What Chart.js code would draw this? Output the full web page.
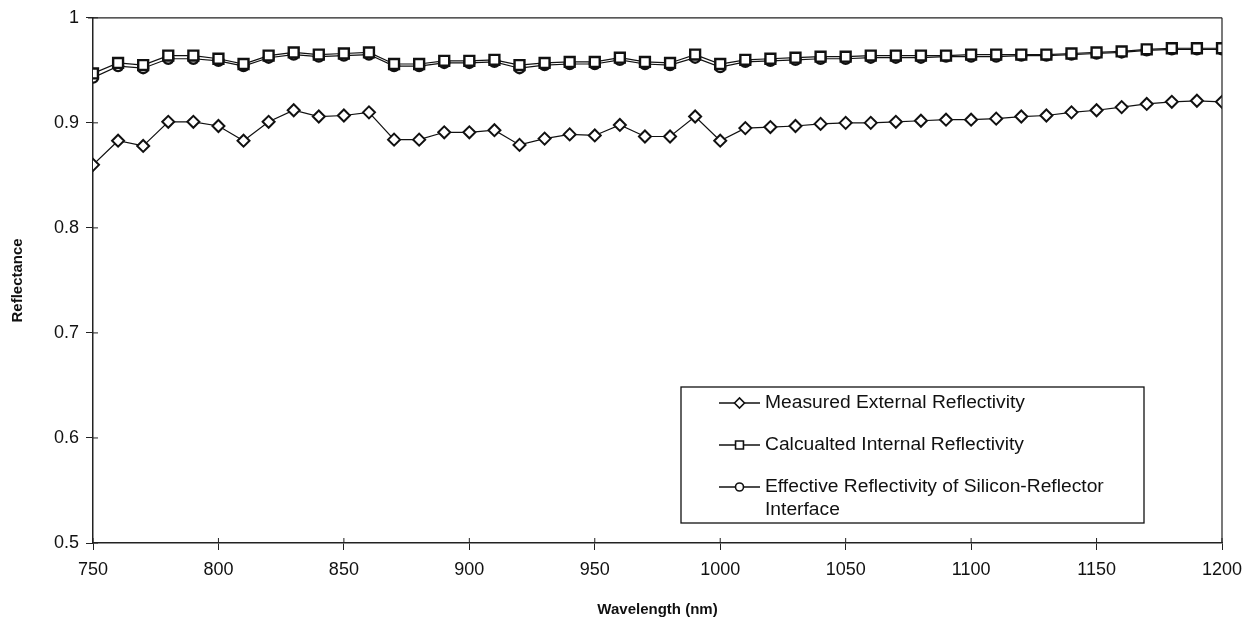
<!DOCTYPE html>
<html lang="en">
<head>
<meta charset="UTF-8">
<title>Reflectance vs Wavelength</title>
<script src="https://cdn.jsdelivr.net/npm/chart.js"></script>
<style>
  body { margin: 0; background: #fff; }
  #wrap { width: 1255px; height: 623px; position: relative; }
</style>
</head>
<body>
<div id="wrap"><canvas id="chart" width="1255" height="623"></canvas></div>
<script>
// wavelengths (nm)
const wavelengths = [750,760,770,780,790,800,810,820,830,840,850,860,870,880,890,900,910,920,930,940,950,960,970,980,990,1000,1010,1020,1030,1040,1050,1060,1070,1080,1090,1100,1110,1120,1130,1140,1150,1160,1170,1180,1190,1200];

const measured = [0.860,0.883,0.878,0.901,0.901,0.897,0.883,0.901,0.912,0.906,0.907,0.910,0.884,0.884,0.891,0.891,0.893,0.879,0.885,0.889,0.888,0.898,0.887,0.887,0.906,0.883,0.895,0.896,0.897,0.899,0.900,0.900,0.901,0.902,0.903,0.903,0.904,0.906,0.907,0.910,0.912,0.915,0.918,0.920,0.921,0.920];

const calculated = [0.947,0.957,0.955,0.964,0.964,0.961,0.956,0.964,0.967,0.965,0.966,0.967,0.956,0.956,0.959,0.959,0.960,0.955,0.957,0.958,0.958,0.962,0.958,0.957,0.965,0.956,0.960,0.961,0.962,0.963,0.963,0.964,0.964,0.964,0.964,0.965,0.965,0.965,0.965,0.966,0.967,0.968,0.970,0.971,0.971,0.971];

const effective = [0.943,0.954,0.952,0.961,0.961,0.959,0.954,0.962,0.965,0.963,0.964,0.965,0.954,0.954,0.957,0.957,0.958,0.952,0.955,0.956,0.956,0.960,0.956,0.955,0.962,0.953,0.958,0.959,0.960,0.961,0.961,0.962,0.962,0.962,0.963,0.963,0.963,0.964,0.964,0.965,0.966,0.967,0.969,0.970,0.970,0.970];

const seriesNames = ["Measured External Reflectivity", "Calcualted Internal Reflectivity", "Effective Reflectivity of Silicon-Reflector Interface"];

const xTicks = [750,800,850,900,950,1000,1050,1100,1150,1200];
const yTicks = [0.5,0.6,0.7,0.8,0.9,1];

const FONT = "'Liberation Sans', Arial, sans-serif";
const INK = "#111";

function toPoints(arr) {
  return arr.map((v, i) => ({ x: wavelengths[i], y: v }));
}

// plot frame + ticks that cross the axes
const framePlugin = {
  id: "frame",
  afterDraw(chart) {
    const { ctx, chartArea: a, scales } = chart;
    ctx.save();
    ctx.strokeStyle = "#222";
    ctx.lineWidth = 1.2;
    ctx.beginPath();
    ctx.moveTo(a.left - 5, a.top); ctx.lineTo(a.right, a.top);
    ctx.moveTo(a.right, a.top); ctx.lineTo(a.right, a.bottom);
    ctx.stroke();
    ctx.lineWidth = 1;
    ctx.beginPath();
    xTicks.forEach(t => {
      const x = scales.x.getPixelForValue(t);
      ctx.moveTo(x, a.bottom); ctx.lineTo(x, a.bottom - 5);
    });
    yTicks.forEach(t => {
      const y = scales.y.getPixelForValue(t);
      ctx.moveTo(a.left, y); ctx.lineTo(a.left + 5, y);
    });
    ctx.stroke();
    ctx.restore();
  }
};

// boxed legend inside the plot, like the original
const legendPlugin = {
  id: "boxLegend",
  afterDraw(chart) {
    const { ctx } = chart;
    const box = { x: 681, y: 387, w: 463, h: 136 };
    const lineX0 = 719, lineX1 = 760, textX = 765;
    const rowY = [403, 445, 487];
    const lineH = 23;
    const stretch = 1.1;
    const maxW = (box.x + box.w - textX - 6) / stretch;
    const legendMarks = [
      { style: "rectRot", r: 5 },
      { style: "rect", r: 5.6 },
      { style: "circle", r: 4 }
    ];
    ctx.save();
    ctx.fillStyle = "#fff";
    ctx.fillRect(box.x, box.y, box.w, box.h);
    ctx.strokeStyle = "#111";
    ctx.lineWidth = 1.3;
    ctx.strokeRect(box.x, box.y, box.w, box.h);
    ctx.font = "17.5px " + FONT;
    ctx.textBaseline = "middle";
    chart.data.datasets.forEach((ds, i) => {
      const y = rowY[i];
      ctx.strokeStyle = INK;
      ctx.lineWidth = 1.3;
      ctx.beginPath();
      ctx.moveTo(lineX0, y); ctx.lineTo(lineX1, y);
      ctx.stroke();
      ctx.fillStyle = "#fff";
      ctx.strokeStyle = INK;
      ctx.lineWidth = 1.6;
      Chart.helpers.drawPoint(ctx, {
        pointStyle: legendMarks[i].style,
        radius: legendMarks[i].r,
        borderWidth: 1.6,
        rotation: 0
      }, (lineX0 + lineX1) / 2, y);
      // wrap label text
      const words = ds.label.split(" ");
      let line = "", lines = [];
      words.forEach(w => {
        const test = line ? line + " " + w : w;
        if (ctx.measureText(test).width > maxW && line) { lines.push(line); line = w; }
        else line = test;
      });
      lines.push(line);
      ctx.fillStyle = INK;
      lines.forEach((l, k) => {
        ctx.save();
        ctx.translate(textX, y + k * lineH);
        ctx.scale(stretch, 1);
        ctx.fillText(l, 0, 0);
        ctx.restore();
      });
    });
    ctx.restore();
  }
};

const ctx = document.getElementById("chart").getContext("2d");
new Chart(ctx, {
  type: "line",
  data: {
    datasets: [
      {
        label: seriesNames[0],
        data: toPoints(measured),
        borderColor: INK, borderWidth: 1.2,
        pointStyle: "rectRot", pointRadius: 6,
        pointBackgroundColor: "#fff", pointBorderColor: INK, pointBorderWidth: 2,
        tension: 0
      },
      {
        label: seriesNames[1],
        data: toPoints(calculated),
        borderColor: INK, borderWidth: 1.2,
        pointStyle: "rect", pointRadius: 7,
        pointBackgroundColor: "#fff", pointBorderColor: INK, pointBorderWidth: 2.4,
        tension: 0
      },
      {
        label: seriesNames[2],
        data: toPoints(effective),
        borderColor: INK, borderWidth: 1.2,
        pointStyle: "circle", pointRadius: 5,
        pointBackgroundColor: "#fff", pointBorderColor: INK, pointBorderWidth: 2.4,
        tension: 0
      }
    ]
  },
  options: {
    responsive: false,
    animation: false,
    events: [],
    layout: { padding: { top: 11, right: 33, left: 0, bottom: 0 } },
    plugins: {
      legend: { display: false },
      tooltip: { enabled: false }
    },
    scales: {
      x: {
        type: "linear",
        min: 750, max: 1200,
        afterBuildTicks: s => { s.ticks = xTicks.map(v => ({ value: v })); },
        afterFit: s => { s.height = 80; },
        ticks: {
          font: { family: FONT, size: 18 }, color: INK, padding: 9, maxRotation: 0,
          callback: v => String(v)
        },
        grid: { drawOnChartArea: false, drawTicks: true, tickLength: 7, color: "#222", lineWidth: 1 },
        border: { display: true, color: "#222", width: 1.5 },
        title: {
          display: true, text: "Wavelength (nm)", color: INK,
          font: { family: FONT, size: 15, weight: "bold" },
          padding: { top: 4, bottom: 4 }
        }
      },
      y: {
        min: 0.5, max: 1,
        afterBuildTicks: s => { s.ticks = yTicks.map(v => ({ value: v })); },
        afterFit: s => { s.width = 93; },
        ticks: {
          font: { family: FONT, size: 18 }, color: INK, padding: 7,
          callback: v => String(+v.toFixed(1))
        },
        grid: { drawOnChartArea: false, drawTicks: true, tickLength: 7, color: "#222", lineWidth: 1 },
        border: { display: true, color: "#222", width: 1.5 },
        title: {
          display: true, text: "Reflectance", color: INK,
          font: { family: FONT, size: 15, weight: "bold" },
          padding: { top: 9, bottom: 4 }
        }
      }
    }
  },
  plugins: [framePlugin, legendPlugin]
});
</script>
</body>
</html>
